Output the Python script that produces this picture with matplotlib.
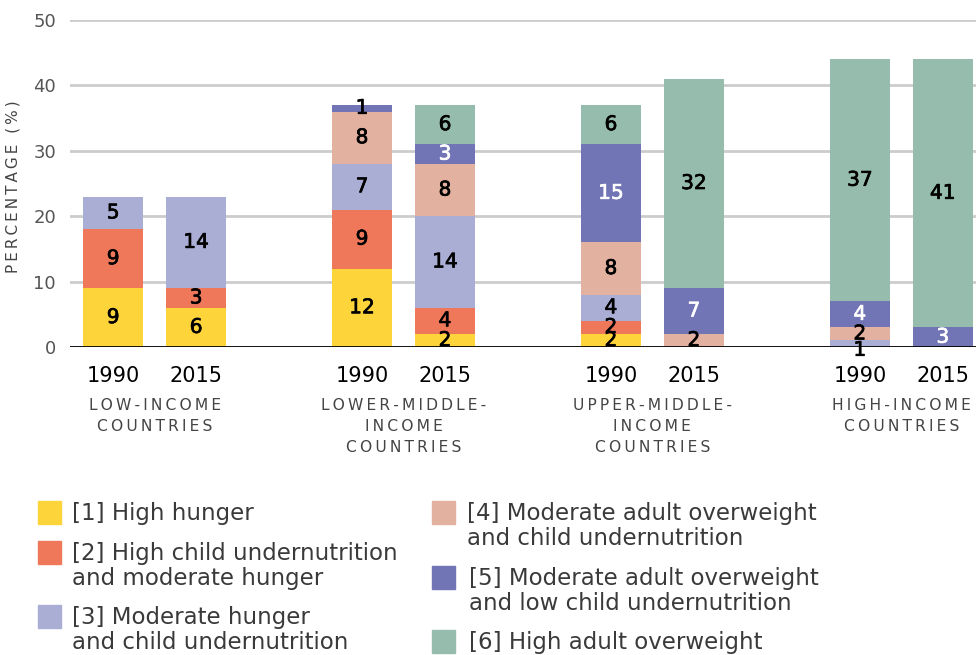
import matplotlib.pyplot as plt
import matplotlib.transforms as mtransforms
import matplotlib.patheffects as pe
from matplotlib.patches import Rectangle
import numpy as np

plt.rcParams['font.family'] = ['DejaVu Sans']

# bars: four income groups, each 1990 and 2015
years = ['1990', '2015'] * 4
groups = ['LOW-INCOME\nCOUNTRIES', 'LOWER-MIDDLE-\nINCOME\nCOUNTRIES',
          'UPPER-MIDDLE-\nINCOME\nCOUNTRIES', 'HIGH-INCOME\nCOUNTRIES']

# share of countries (%) in each nutrition profile, one list per profile
high_hunger = [9, 6, 12, 2, 2, 0, 0, 0]
high_child_under = [9, 3, 9, 4, 2, 0, 0, 0]
mod_hunger_child = [5, 14, 7, 14, 4, 0, 1, 0]
mod_over_child = [0, 0, 8, 8, 8, 2, 2, 0]
mod_over_low_child = [0, 0, 1, 3, 15, 7, 4, 3]
high_over = [0, 0, 0, 6, 6, 32, 37, 41]

profiles = [
    ('[1] High hunger', high_hunger, '#fed43b'),
    ('[2] High child undernutrition\nand moderate hunger', high_child_under, '#ef785b'),
    ('[3] Moderate hunger\nand child undernutrition', mod_hunger_child, '#aaadd4'),
    ('[4] Moderate adult overweight\nand child undernutrition', mod_over_child, '#e2b1a0'),
    ('[5] Moderate adult overweight\nand low child undernutrition', mod_over_low_child, '#7175b5'),
    ('[6] High adult overweight', high_over, '#96bcad'),
]


def spaced(s, gap='\u2009'):
    return '\n'.join(gap.join(line) for line in s.split('\n'))


W, H = 976, 655
fig = plt.figure(figsize=(W / 100, H / 100), dpi=100)
ax = fig.add_axes([70 / W, 1 - 347 / H, 906 / W, 327 / H])

x = np.array([0, 1, 3, 4, 6, 7, 9, 10])
bottom = np.zeros(len(x))
for k, (name, vals, color) in enumerate(profiles):
    vals = np.array(vals, dtype=float)
    ax.bar(x, vals, width=0.72, bottom=bottom, color=color, zorder=2)
    for xi, b, v in zip(x, bottom, vals):
        if v <= 0:
            continue
        tc = 'white' if (k == 4 and v >= 2) else 'black'
        yc = b + v / 2
        if v == 1 and b == 0:
            yc -= 1.0  # keep the lone "1" clear of the label above it
        ax.text(xi, yc, f'{v:.0f}', ha='center', va='center',
                fontsize=14.5, color=tc, zorder=3,
                path_effects=[pe.withStroke(linewidth=0.5, foreground=tc)])
    bottom += vals

ax.set_xlim(-0.52, 10.4)
ax.set_ylim(0, 50)
ax.set_yticks(range(0, 51, 10))
ax.yaxis.grid(True, color='#cccccc', linewidth=2, zorder=0)
ax.axhline(0, color='black', linewidth=2, zorder=4)
for s in ax.spines.values():
    s.set_visible(False)
ax.set_xticks([])
ax.tick_params(axis='y', length=0, pad=10, labelsize=13, labelcolor='#555555')
ax.set_ylabel(spaced('PERCENTAGE (%)'), fontsize=11, color='#444444')
ax.yaxis.set_label_coords(-0.055, 0.49)

# year and group labels under the bars
blend = mtransforms.blended_transform_factory(ax.transData, fig.transFigure)
for xi, yr in zip(x, years):
    fig.text(xi, 1 - 376 / H, yr, transform=blend, ha='center', va='center',
             fontsize=15, color='black')
for g, name in enumerate(groups):
    fig.text(3 * g + 0.5, 1 - 398 / H, spaced(name), transform=blend,
             ha='center', va='top', fontsize=11.2, color='#444444',
             linespacing=1.5)

# legend in two columns
legend_pos = [(38, 501, 72), (38, 541, 72), (38, 605, 72),
              (432, 501, 467), (432, 566, 469), (432, 630, 469)]
for (name, vals, color), (sx, sy, tx) in zip(profiles, legend_pos):
    fig.patches.append(Rectangle((sx / W, 1 - (sy + 23) / H), 23 / W, 23 / H,
                                 transform=fig.transFigure, color=color))
    fig.text(tx / W, 1 - (sy + 1) / H, name, ha='left', va='top',
             fontsize=16.5, color='#3a3a3a', linespacing=1.1)

fig.savefig('out.png', dpi=100)
